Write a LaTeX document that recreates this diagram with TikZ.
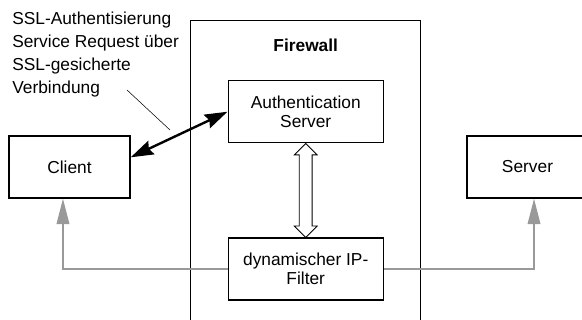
\documentclass[tikz,border=0pt]{standalone}
\usepackage{fontspec}
\setmainfont{Liberation Sans}
\usetikzlibrary{positioning,calc,arrows.meta,shapes.arrows}

\begin{document}
\begin{tikzpicture}[
  x=0.75pt, y=-0.75pt,
  node distance=45pt and 45pt,
  box/.style={rectangle, draw, line width=1.1pt, minimum width=116.25pt, minimum height=46.5pt,
              align=center, inner sep=2pt, font=\fontsize{13}{14.25}\selectfont},
  host/.style={box, minimum width=90.75pt},
  zone/.style={rectangle, draw, line width=1.1pt, minimum width=172.5pt, minimum height=240pt, inner sep=0pt},
  note/.style={align=left, inner sep=0pt, font=\fontsize{13}{17.25}\selectfont},
  link/.style={double arrow, draw, line width=0.6pt, fill=white, shape border rotate=90,
               inner sep=4.5pt, double arrow head extend=3.75pt, minimum height=70.5pt},
  ssl/.style={{Stealth[length=17pt,width=11pt,inset=2pt]}-{Stealth[length=17pt,width=11pt,inset=2pt]}, line width=1.8pt},
  ip/.style={-{Triangle[length=19pt,width=9.5pt]}, line width=1.1pt, color=black!40},
]
  \useasboundingbox (0,0) rectangle (582,320);

  % Firewall with its two components
  \node[zone, anchor=north west] (fw) at (190,20) {};
  \node[inner sep=0pt, font=\fontsize{13}{14.25}\selectfont\bfseries, below=14pt of fw.north] (fwlabel) {Firewall};
  \node[box, below=45pt of fw.north] (auth) {Authentication\\Server};
  \node[box, below=70.5pt of auth] (filter) {dynamischer IP-\\Filter};

  % End points outside
  \node[host] (client) at (69.5,167) {Client};
  \node[host] (server) at (527.5,167) {Server};

  % Note on the SSL connection
  \node[note, anchor=north west] (note) at (12,12) {SSL-Authentisierung\\Service Request über\\SSL-gesicherte\\Verbindung};
  \coordinate (callout start) at (127,90);
  \coordinate (callout end) at (170,130);

  % Connections
  \node[link] (link) at ($(auth.south)!0.5!(filter.north)$) {};
  \draw[ssl] (client.9) -- (auth.west);
  \draw[line width=0.4pt] (callout start) -- (callout end);
  \draw[ip] (filter.west) -| ([xshift=-4.9pt]client.south);
  \draw[ip] (filter.east) -| ([xshift=4.9pt]server.south);
\end{tikzpicture}
\end{document}
